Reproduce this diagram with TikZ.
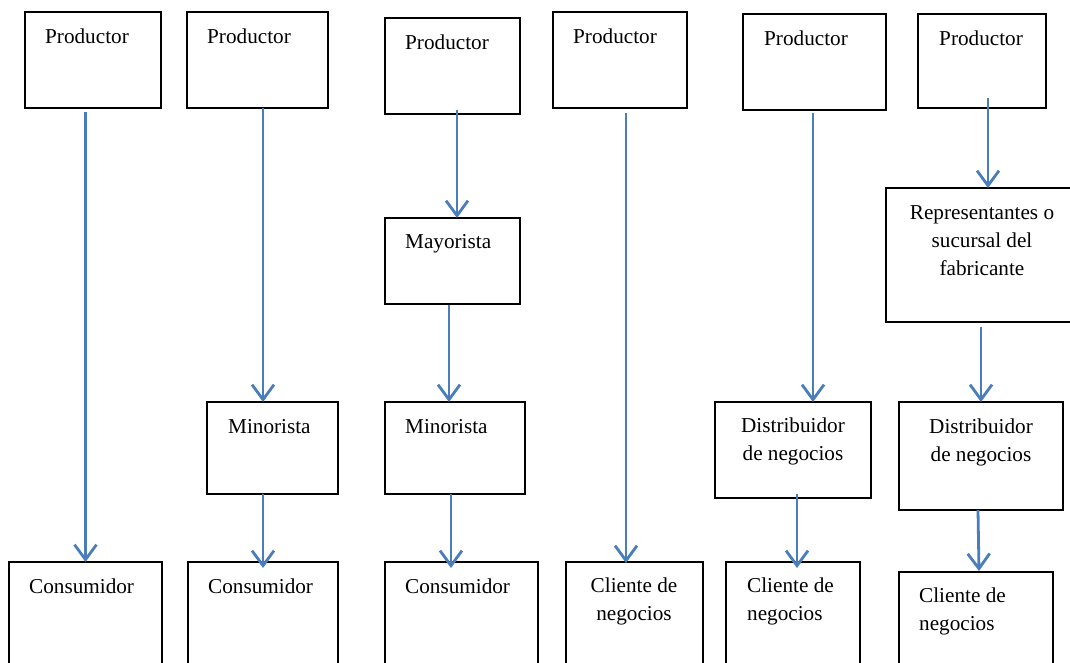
\documentclass[tikz,border=0pt]{standalone}
\usepackage{fontspec}
\setmainfont{Liberation Serif}
\usetikzlibrary{arrows.meta}
\definecolor{azul}{RGB}{74,126,187}

\begin{document}
\begin{tikzpicture}[x=1pt,y=-1pt,
    caja/.style={draw, line width=1.3pt, rectangle, inner sep=0pt, outer sep=0pt, anchor=north west},
    texto/.style={inner sep=0pt, font=\fontsize{21.2}{28}\selectfont, align=center},
    flecha/.style={draw=azul, line width=2.8pt, -{Straight Barb[length=15pt,width=22pt]}}]
\useasboundingbox (0,0) rectangle (1070,662);
\clip (0,0) rectangle (1070,662);
% productores
\node[caja, minimum width=136pt, minimum height=96pt] (prod1) at (25,12) {};
\node[caja, minimum width=141pt, minimum height=96pt] (prod2) at (187,12) {};
\node[caja, minimum width=135pt, minimum height=96pt] (prod3) at (385,18) {};
\node[caja, minimum width=134pt, minimum height=96pt] (prod4) at (553,12) {};
\node[caja, minimum width=143pt, minimum height=96pt] (prod5) at (743,14) {};
\node[caja, minimum width=128pt, minimum height=94pt] (prod6) at (918,14) {};
\node[texto, anchor=base west] (tprod1) at (45,43) {Productor};
\node[texto, anchor=base west] (tprod2) at (207,43) {Productor};
\node[texto, anchor=base west] (tprod3) at (405,49) {Productor};
\node[texto, anchor=base west] (tprod4) at (573,43) {Productor};
\node[texto, anchor=base west] (tprod5) at (764,45) {Productor};
\node[texto, anchor=base west] (tprod6) at (939,45) {Productor};
% intermediarios (anchor base = ultima linea)
\node[caja, minimum width=135pt, minimum height=86pt] (may) at (385,218) {};
\node[texto, anchor=base west] (tmay) at (405,248) {Mayorista};
\node[caja, minimum width=190pt, minimum height=134pt] (rep) at (886,188) {};
\node[texto, anchor=base] (trep) at (982,275) {Representantes o\\sucursal del\\fabricante};
\node[caja, minimum width=131pt, minimum height=92pt] (min1) at (207,402) {};
\node[texto, anchor=base west] (tmin1) at (228,433) {Minorista};
\node[caja, minimum width=140pt, minimum height=92pt] (min2) at (385,402) {};
\node[texto, anchor=base west] (tmin2) at (405,433) {Minorista};
\node[caja, minimum width=156pt, minimum height=96pt] (dist1) at (715,402) {};
\node[texto, anchor=base] (tdist1) at (793,460) {Distribuidor\\de negocios};
\node[caja, minimum width=164pt, minimum height=108pt] (dist2) at (899,402) {};
\node[texto, anchor=base] (tdist2) at (981,461) {Distribuidor\\de negocios};
% destinos
\node[caja, minimum width=153pt, minimum height=140pt] (cons1) at (9,562) {};
\node[texto, anchor=base west] (tcons1) at (29,593) {Consumidor};
\node[caja, minimum width=150pt, minimum height=140pt] (cons2) at (188,562) {};
\node[texto, anchor=base west] (tcons2) at (208,593) {Consumidor};
\node[caja, minimum width=153pt, minimum height=140pt] (cons3) at (385,562) {};
\node[texto, anchor=base west] (tcons3) at (405,593) {Consumidor};
\node[caja, minimum width=137pt, minimum height=140pt] (cli1) at (566,562) {};
\node[texto, anchor=base] (tcli1) at (634,620) {Cliente de\\negocios};
\node[caja, minimum width=134pt, minimum height=140pt] (cli2) at (726,562) {};
\node[texto, anchor=base west, align=left] (tcli2) at (747,620) {Cliente de\\negocios};
\node[caja, minimum width=154pt, minimum height=130pt] (cli3) at (899,572) {};
\node[texto, anchor=base west, align=left] (tcli3) at (919,630) {Cliente de\\negocios};
% flechas
\draw[flecha, shorten <=4pt] (cons1.north |- prod1.south) -- (cons1.north);
\draw[flecha] (cons2.north |- prod2.south) -- (cons2.north |- min1.north);
\draw[flecha, shorten <=-4pt] ([xshift=4.5pt]prod3.south) -- ([xshift=4.5pt]may.north);
\draw[flecha, shorten <=1pt] ([xshift=-3.5pt]may.south) -- ([xshift=-3.5pt]may.south |- min2.north);
\draw[flecha, shorten <=5pt, shorten >=-1pt] ([xshift=6pt]prod4.south) -- ([xshift=6pt]prod4.south |- cli1.north);
\draw[flecha, shorten <=3pt] ([xshift=-1.5pt]prod5.south) -- ([xshift=-1.5pt]prod5.south |- dist1.north);
\draw[flecha, shorten <=-10pt] ([xshift=6pt]prod6.south) -- ([xshift=6pt]prod6.south |- rep.north);
\draw[flecha, shorten <=5pt] (dist2.north |- rep.south) -- (dist2.north);
\draw[flecha, shorten >=-6pt] (cons2.north |- min1.south) -- (cons2.north);
\draw[flecha, shorten >=-6pt] ([xshift=-4pt]min2.south) -- ([xshift=-4pt]min2.south |- cons3.north);
\draw[flecha, shorten <=-4pt, shorten >=-6pt] ([xshift=4pt]dist1.south) -- ([xshift=4pt]dist1.south |- cli2.north);
\draw[flecha, shorten >=1pt] ([xshift=-3pt]dist2.south) -- ([xshift=-2pt]dist2.south |- cli3.north);
\end{tikzpicture}
\end{document}
